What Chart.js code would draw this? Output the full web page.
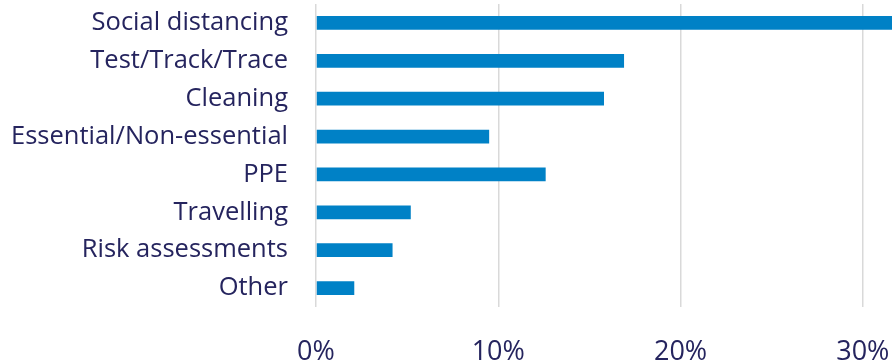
<!DOCTYPE html>
<html>
<head>
<meta charset="utf-8">
<script src="https://cdn.jsdelivr.net/npm/chart.js@4/dist/chart.umd.min.js"></script>
<style>
    html, body { margin: 0; padding: 0; background: #fff; }
    #wrap { width: 892px; height: 362px; position: relative; }
</style>
</head>
<body>
<div id="wrap"><canvas id="chart"></canvas></div>
<script>
// share of responses per topic (%)
const topics = [
    "Social distancing",
    "Test/Track/Trace",
    "Cleaning",
    "Essential/Non-essential",
    "PPE",
    "Travelling",
    "Risk assessments",
    "Other",
];
const shares = [33.0, 16.9, 15.8, 9.5, 12.6, 5.2, 4.2, 2.1];
const xTicks = [0, 10, 20, 30];

const textColor = "#25245e";
const barColor = "#0081c6";

new Chart(document.getElementById("chart"), {
    type: "bar",
    data: {
        labels: topics,
        datasets: [
            {
                data: shares,
                backgroundColor: barColor,
                borderWidth: 0,
                categoryPercentage: 1,
                barPercentage: 0.36,
            },
        ],
    },
    options: {
        indexAxis: "y",
        responsive: true,
        maintainAspectRatio: false,
        animation: false,
        layout: { padding: { top: 4, right: 0, left: 0, bottom: 0 } },
        plugins: {
            legend: { display: false },
            tooltip: { enabled: false },
        },
        scales: {
            x: {
                min: 0,
                max: 31.6,
                border: { display: false },
                grid: {
                    color: "#d9d9d9",
                    lineWidth: 1.5,
                    drawTicks: false,
                },
                afterBuildTicks: (axis) => {
                    axis.ticks = xTicks.map((v) => ({ value: v }));
                },
                afterFit: (axis) => {
                    axis.height = 55;
                    axis.paddingLeft = 0;
                    axis.paddingRight = 0;
                },
                ticks: {
                    padding: 29,
                    color: textColor,
                    font: { family: "Open Sans", size: 27 },
                    maxRotation: 0,
                    callback: (v) => v + "%",
                },
            },
            y: {
                border: { display: false },
                grid: { display: false, drawTicks: false },
                afterFit: (axis) => {
                    axis.width = 316;
                    axis.paddingTop = 0;
                    axis.paddingBottom = 0;
                },
                ticks: {
                    padding: 28,
                    color: textColor,
                    font: { family: "Open Sans", size: 25.5 },
                },
            },
        },
    },
});
</script>
</body>
</html>
